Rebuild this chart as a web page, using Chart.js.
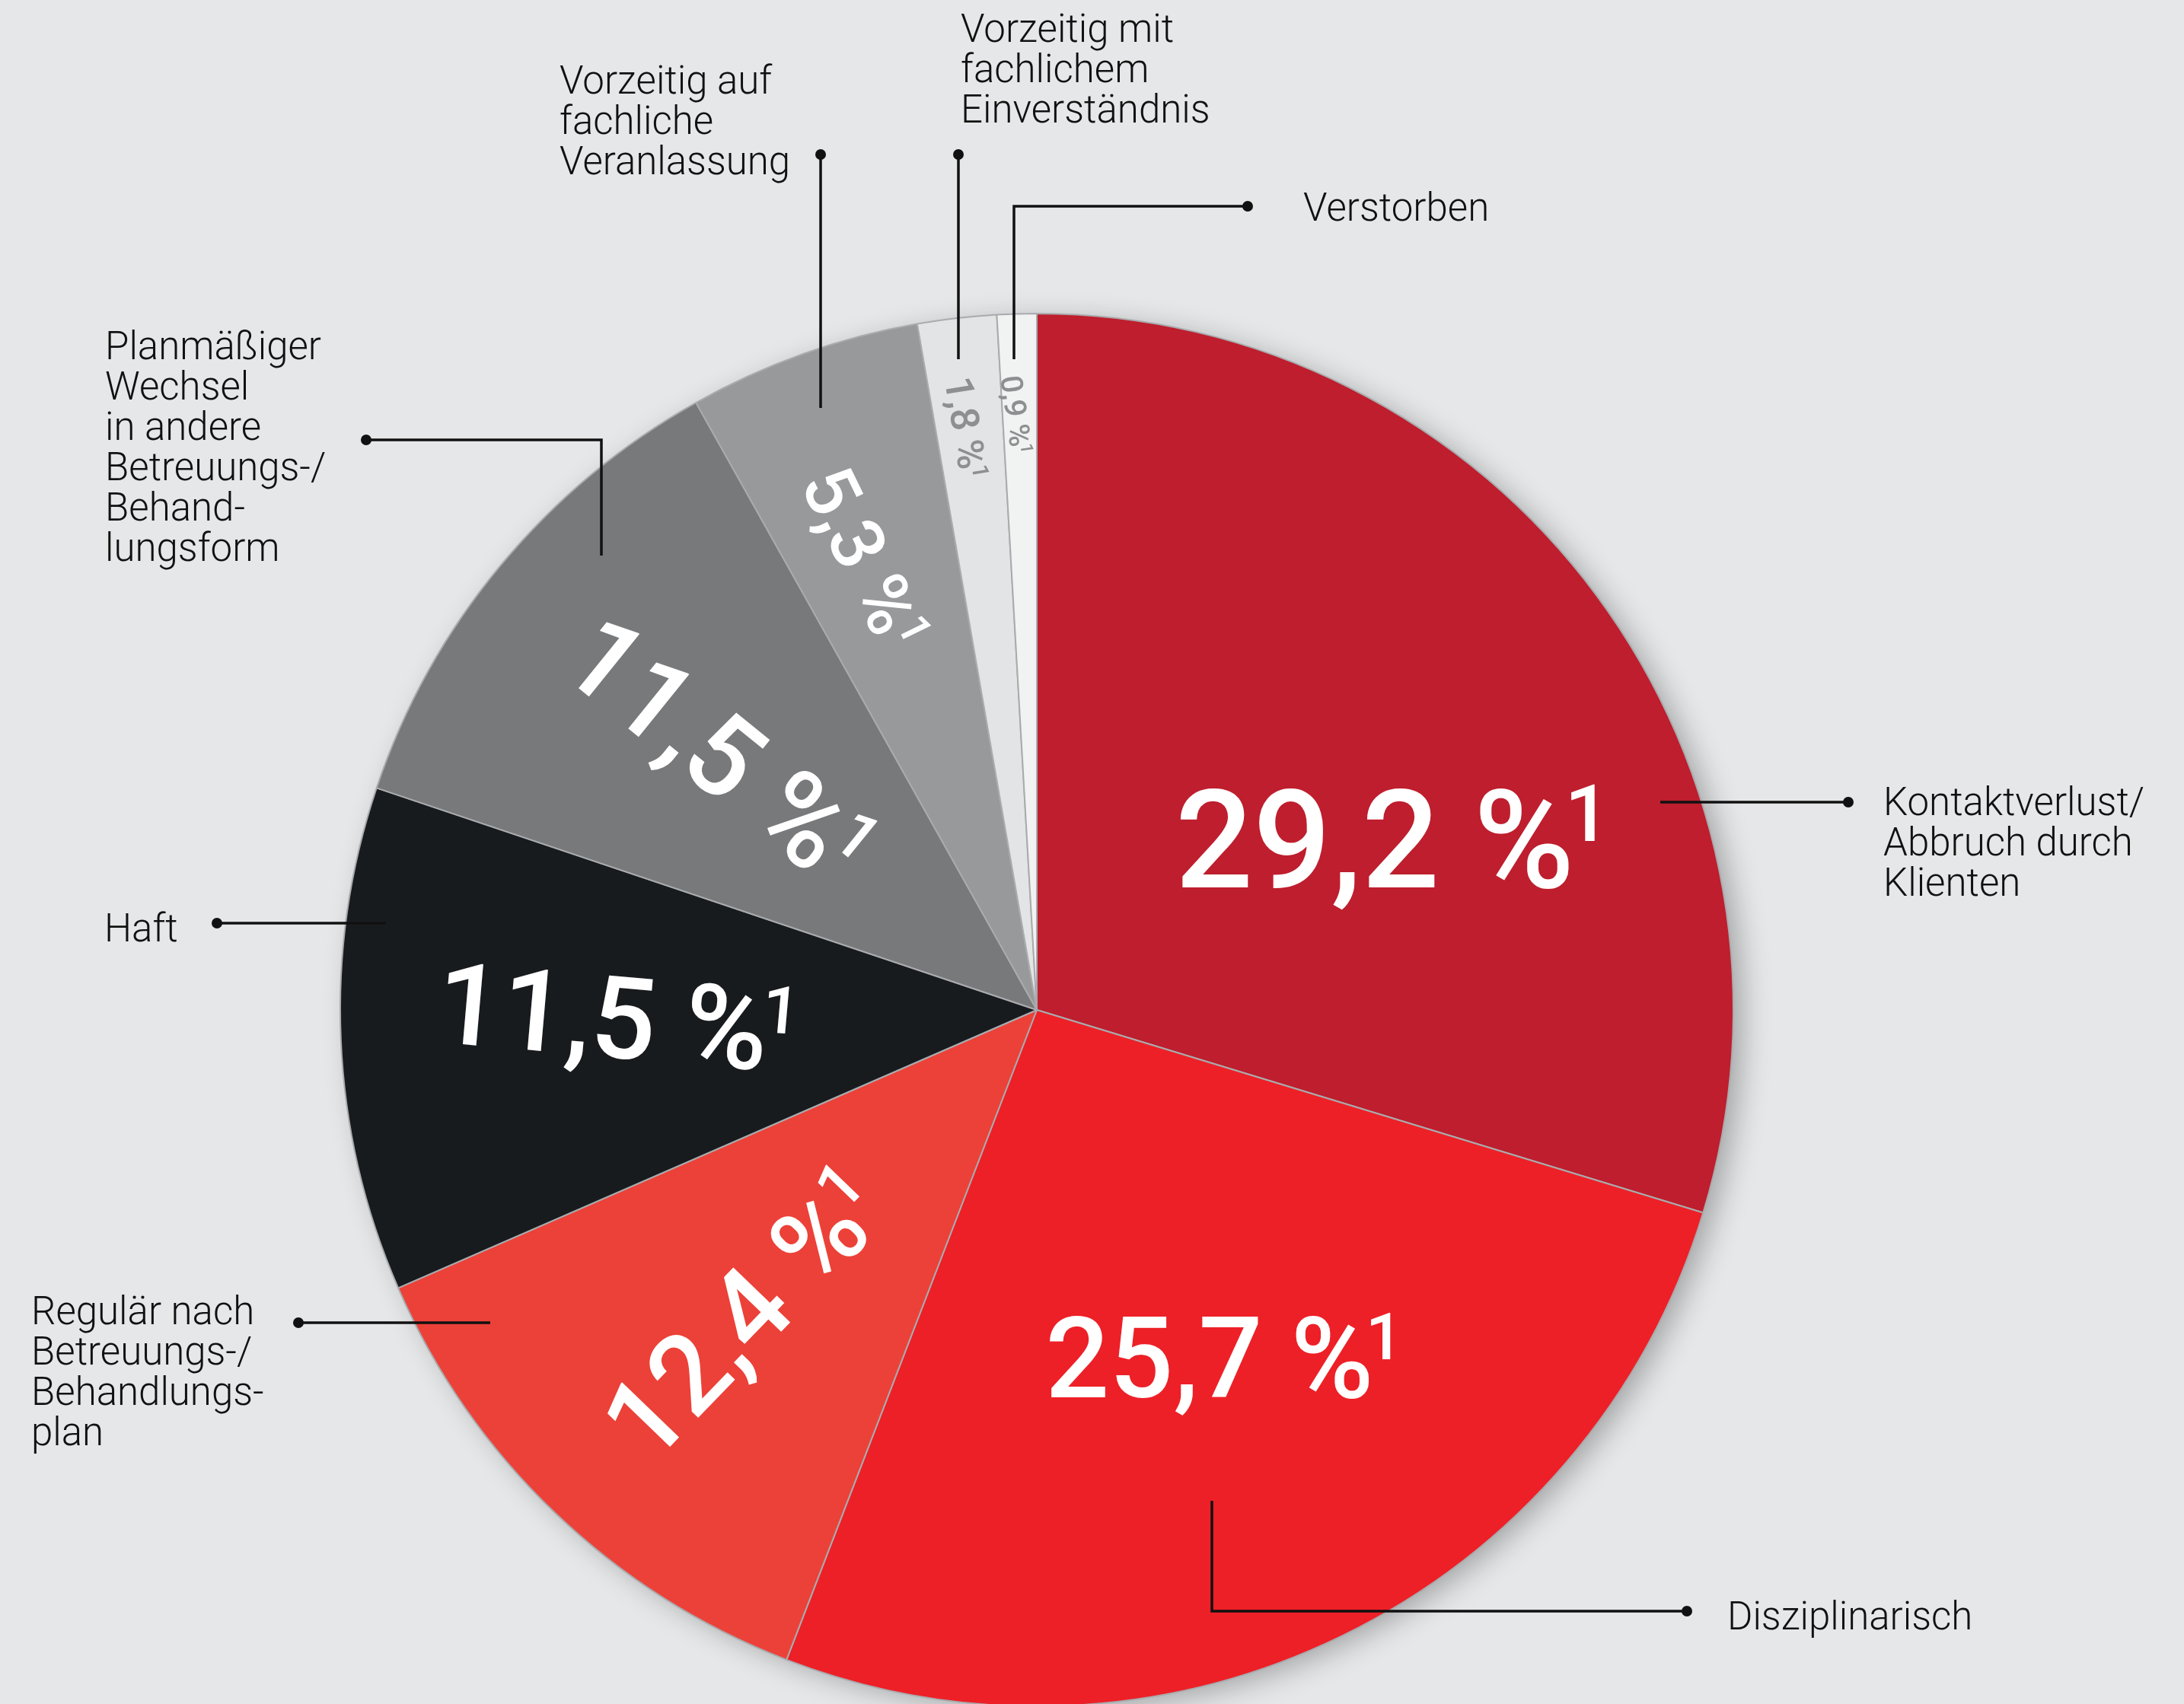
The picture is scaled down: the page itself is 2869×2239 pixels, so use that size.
<!DOCTYPE html>
<html lang="de">
<head>
    <meta charset="UTF-8">
    <title>Beendigungsgründe</title>
    <script src="https://cdn.jsdelivr.net/npm/chart.js"></script>
    <style>
        html, body {
            margin: 0;
            padding: 0;
            background: #e6e7e8;
            overflow: hidden;
        }
        #wrap {
            width: 2869px;
            height: 2239px;
        }
    </style>
</head>
<body>
<div id="wrap"><canvas id="pieChart" width="2869" height="2239"></canvas></div>

<script>
    // data, clockwise from 12 o'clock
    const categories = [
        'Kontaktverlust/Abbruch durch Klienten',
        'Disziplinarisch',
        'Regulär nach Betreuungs-/Behandlungsplan',
        'Haft',
        'Planmäßiger Wechsel in andere Betreuungs-/Behandlungsform',
        'Vorzeitig auf fachliche Veranlassung',
        'Vorzeitig mit fachlichem Einverständnis',
        'Verstorben'
    ];
    const categoryLines = [
        ['Kontaktverlust/', 'Abbruch durch', 'Klienten'],
        ['Disziplinarisch'],
        ['Regulär nach', 'Betreuungs-/', 'Behandlungs-', 'plan'],
        ['Haft'],
        ['Planmäßiger', 'Wechsel', 'in andere', 'Betreuungs-/', 'Behand-', 'lungsform'],
        ['Vorzeitig auf', 'fachliche', 'Veranlassung'],
        ['Vorzeitig mit', 'fachlichem', 'Einverständnis'],
        ['Verstorben']
    ];
    const values = [29.2, 25.7, 12.4, 11.5, 11.5, 5.3, 1.8, 0.9];
    const footnote = '1';

    const sliceColors = ['#be1e2d', '#ed2027', '#ec4138', '#181b1e', '#78797b', '#98999b', '#e3e4e5', '#f1f2f2'];
    const valueColors = ['#fff', '#fff', '#fff', '#fff', '#fff', '#fff', '#8e8f91', '#8e8f91'];

    // value label placement: shift from slice middle (deg), distance (share of radius), rotation (deg), font size
    const labelShift = [10.8, -2.3, 0.2, 1.5, -0.4, -1.2, -0.3, -0.3];
    const labelDist = [0.567, 0.567, 0.605, 0.602, 0.587, 0.693, 0.842, 0.855];
    const labelRot = [0, 0, -46, 5, 39, 64, 81, 82];
    const labelSize = [180, 148, 146, 150, 148, 98, 52, 40];

    // callouts: first baseline of the text, leader path, dot
    const callouts = [
        { x: 2474, y: 1071, path: [[2181, 1054], [2428, 1054]], dot: [2428, 1054] },
        { x: 2269, y: 2141, path: [[1592, 1972], [1592, 2117], [2216, 2117]], dot: [2216, 2117] },
        { x: 41, y: 1740, path: [[392, 1738], [644, 1738]], dot: [392, 1738] },
        { x: 137, y: 1237, path: [[285, 1213], [507, 1213]], dot: [285, 1213] },
        { x: 138, y: 472, path: [[481, 578], [790, 578], [790, 730]], dot: [481, 578] },
        { x: 735, y: 123, path: [[1078, 536], [1078, 203]], dot: [1078, 203] },
        { x: 1262, y: 55, path: [[1259, 472], [1259, 203]], dot: [1259, 203] },
        { x: 1712, y: 290, path: [[1332, 472], [1332, 271], [1639, 271]], dot: [1639, 271] }
    ];

    const pieShadow = {
        id: 'pieShadow',
        beforeDatasetsDraw(chart) {
            const arc = chart.getDatasetMeta(0).data[0];
            if (!arc) return;
            const ctx = chart.ctx;
            ctx.save();
            ctx.shadowColor = 'rgba(0,0,0,0.3)';
            ctx.shadowBlur = 38;
            ctx.shadowOffsetX = 14;
            ctx.shadowOffsetY = 8;
            ctx.fillStyle = '#c9cacc';
            ctx.beginPath();
            ctx.arc(arc.x, arc.y, arc.outerRadius - 3, 0, Math.PI * 2);
            ctx.fill();
            ctx.restore();
        }
    };

    function drawValue(ctx, txt, size, color) {
        const mainFont = '500 ' + size + 'px Roboto, "Fira Sans", sans-serif';
        const supSize = size * 0.58;
        const supFont = '500 ' + supSize + 'px Roboto, "Fira Sans", sans-serif';
        ctx.font = mainFont;
        const w1 = ctx.measureText(txt).width;
        ctx.font = supFont;
        const w2 = ctx.measureText(footnote).width;
        const gap = -size * 0.07;
        const left = -(w1 + gap + w2) / 2;
        const base = size * 0.355;
        ctx.fillStyle = color;
        ctx.textAlign = 'left';
        ctx.textBaseline = 'alphabetic';
        ctx.font = mainFont;
        ctx.fillText(txt, left, base);
        ctx.font = supFont;
        ctx.fillText(footnote, left + w1 + gap, base - size * 0.711 + supSize * 0.711 - size * 0.04);
    }

    const valueLabels = {
        id: 'valueLabels',
        afterDatasetsDraw(chart) {
            const ctx = chart.ctx;
            chart.getDatasetMeta(0).data.forEach((arc, i) => {
                const p = arc.getProps(['x', 'y', 'startAngle', 'endAngle', 'outerRadius'], true);
                const a = (p.startAngle + p.endAngle) / 2 + labelShift[i] * Math.PI / 180;
                const r = p.outerRadius * labelDist[i];
                const txt = values[i].toFixed(1).replace('.', ',') + ' %';
                ctx.save();
                ctx.translate(p.x + Math.cos(a) * r, p.y + Math.sin(a) * r);
                ctx.rotate(labelRot[i] * Math.PI / 180);
                drawValue(ctx, txt, labelSize[i], valueColors[i]);
                ctx.restore();
            });
        }
    };

    const calloutPlugin = {
        id: 'callouts',
        afterDraw(chart) {
            const ctx = chart.ctx;
            const lines = chart.data.labels;
            ctx.save();
            ctx.strokeStyle = '#111';
            ctx.fillStyle = '#111';
            ctx.lineWidth = 3.5;
            callouts.forEach((c, i) => {
                ctx.beginPath();
                c.path.forEach((pt, k) => k === 0 ? ctx.moveTo(pt[0], pt[1]) : ctx.lineTo(pt[0], pt[1]));
                ctx.stroke();
                ctx.beginPath();
                ctx.arc(c.dot[0], c.dot[1], 7, 0, Math.PI * 2);
                ctx.fill();

                ctx.font = '300 51px Roboto, "Fira Sans", sans-serif';
                ctx.textAlign = 'left';
                ctx.textBaseline = 'alphabetic';
                lines[i].forEach((line, k) => ctx.fillText(line, c.x, c.y + k * 53));
            });
            ctx.restore();
        }
    };

    const ctx = document.getElementById('pieChart').getContext('2d');
    const pieChart = new Chart(ctx, {
        type: 'pie',
        data: {
            labels: categoryLines,
            datasets: [{
                label: 'Anteil',
                data: values,
                backgroundColor: sliceColors,
                borderColor: '#a9abae',
                borderWidth: 2,
                radius: 915
            }]
        },
        options: {
            responsive: false,
            devicePixelRatio: 1,
            animation: false,
            layout: { padding: { top: 415, bottom: 0, left: 0, right: 145 } },
            plugins: {
                legend: { display: false },
                tooltip: { enabled: false }
            }
        },
        plugins: [pieShadow, valueLabels, calloutPlugin]
    });
</script>
</body>
</html>
